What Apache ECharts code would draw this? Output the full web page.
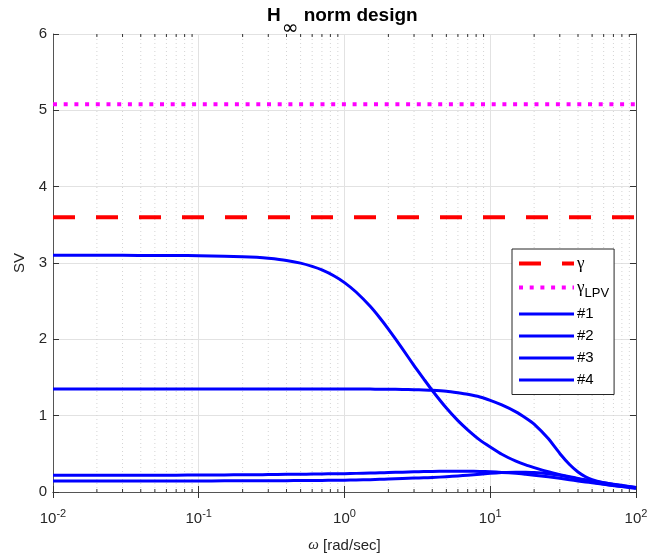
<!DOCTYPE html>
<html>
<head>
<meta charset="utf-8">
<script src="https://cdn.jsdelivr.net/npm/echarts@6/dist/echarts.min.js"></script>
<style>html,body{margin:0;padding:0;background:#fff}#c{width:647px;height:559px}</style>
</head>
<body>
<div id="c"></div>
<script>
// frequency points (rad/sec)
var omega = [0.01, 0.02, 0.03, 0.05, 0.07, 0.1, 0.15, 0.2, 0.25, 0.3, 0.4, 0.5, 0.6, 0.7, 0.85, 1, 1.2, 1.5, 1.75, 2, 2.5, 3, 3.5, 4, 5, 6, 7, 8.5, 10, 12, 15, 17.5, 20, 25, 30, 35, 40, 45, 50, 60, 70, 85, 100];
// singular values
var sv1 = [3.100, 3.100, 3.100, 3.099, 3.098, 3.096, 3.090, 3.083, 3.074, 3.062, 3.034, 2.998, 2.955, 2.909, 2.830, 2.743, 2.620, 2.433, 2.280, 2.135, 1.876, 1.655, 1.480, 1.330, 1.100, 0.935, 0.815, 0.680, 0.590, 0.495, 0.405, 0.355, 0.320, 0.265, 0.228, 0.200, 0.178, 0.160, 0.145, 0.120, 0.102, 0.080, 0.058];
var sv2 = [1.350, 1.350, 1.350, 1.350, 1.350, 1.350, 1.350, 1.350, 1.350, 1.350, 1.350, 1.350, 1.350, 1.350, 1.350, 1.350, 1.349, 1.348, 1.347, 1.346, 1.343, 1.340, 1.337, 1.333, 1.320, 1.300, 1.280, 1.245, 1.200, 1.140, 1.050, 0.970, 0.890, 0.700, 0.505, 0.360, 0.262, 0.200, 0.162, 0.122, 0.098, 0.075, 0.058];
var sv3 = [0.220, 0.220, 0.220, 0.221, 0.221, 0.222, 0.224, 0.225, 0.226, 0.228, 0.231, 0.233, 0.235, 0.237, 0.239, 0.240, 0.244, 0.248, 0.252, 0.255, 0.260, 0.265, 0.268, 0.270, 0.272, 0.272, 0.272, 0.269, 0.265, 0.257, 0.245, 0.232, 0.220, 0.200, 0.180, 0.160, 0.145, 0.132, 0.120, 0.100, 0.085, 0.068, 0.055];
var sv4 = [0.145, 0.145, 0.145, 0.145, 0.145, 0.145, 0.146, 0.146, 0.147, 0.147, 0.149, 0.150, 0.151, 0.152, 0.154, 0.155, 0.158, 0.162, 0.166, 0.170, 0.176, 0.182, 0.186, 0.190, 0.200, 0.210, 0.220, 0.233, 0.245, 0.254, 0.260, 0.258, 0.255, 0.240, 0.220, 0.195, 0.170, 0.150, 0.130, 0.105, 0.085, 0.064, 0.045];
var gammaVal = 3.6;
var gammaLPV = 5.08;
var xRange = [0.01, 100];
var yTicks = [0, 1, 2, 3, 4, 5, 6];
var minorX = [];
[0.01, 0.1, 1, 10].forEach(function (d) { for (var k = 2; k <= 9; k++) minorX.push(+(d * k).toPrecision(3)); });

function pairs(ys) { return omega.map(function (w, i) { return [w, ys[i]]; }); }

var font = "'Liberation Sans', Arial, Helvetica, sans-serif";
var txt = '#262626';
var chart = echarts.init(document.getElementById('c'), null, {renderer: 'canvas'});

var lblFmt = function (v) {
  var e = Math.round(Math.log(v) / Math.LN10);
  return '{b|10}{sup|' + e + '}';
};

function blue(name, ys) {
  return {
    name: name, type: 'line', symbol: 'none', smooth: 0.15, z: 4,
    data: pairs(ys), lineStyle: {color: '#0000ff', width: 3, join: 'round'}, itemStyle: {color: '#0000ff'}
  };
}

chart.setOption({
  animation: false,
  backgroundColor: '#fff',
  title: {
    text: '{h|H}{sub|∞}{h| norm design}',
    left: 267,
    top: -7,
    padding: 0,
    textStyle: {
      rich: {
        h: {fontSize: 19, fontWeight: 'bold', fontFamily: font, color: '#000'},
        sub: {fontSize: 20, fontWeight: 'normal', fontFamily: "'DejaVu Sans', sans-serif", color: '#000', padding: [26, 0, 0, 1]}
      }
    }
  },
  grid: {left: 53, right: 11, top: 34, bottom: 67, containLabel: false, outerBoundsMode: 'none'},
  legend: {
    orient: 'vertical',
    left: 512,
    top: 249,
    padding: [6, 5, 7, 5],
    itemGap: 7,
    itemWidth: 55,
    itemHeight: 14,
    backgroundColor: '#fff',
    borderColor: '#262626',
    borderWidth: 1,
    borderRadius: 0,
    itemStyle: {opacity: 0},
    lineStyle: {width: 'inherit'},
    data: ['g', 'glpv', '#1', '#2', '#3', '#4'],
    formatter: function (n) {
      if (n === 'g') return '{g|γ}';
      if (n === 'glpv') return '{g|γ}{s|LPV}';
      return '{t|' + n + '}';
    },
    textStyle: {
      color: '#000',
      fontSize: 15,
      fontFamily: font,
      padding: [0, 0, 0, -2],
      rich: {
        g: {fontSize: 17, fontFamily: "'Liberation Serif', 'DejaVu Serif', serif", color: '#000'},
        s: {fontSize: 13, fontFamily: font, color: '#000', padding: [11, 0, 0, 0]},
        t: {fontSize: 15, fontFamily: font, color: '#000'}
      }
    }
  },
  xAxis: [{
    type: 'log',
    logBase: 10,
    min: xRange[0],
    max: xRange[1],
    position: 'bottom',
    name: '{i|ω} [rad/sec]',
    nameLocation: 'middle',
    nameGap: 46,
    nameTextStyle: {
      color: txt, fontSize: 15, fontFamily: font,
      rich: {i: {fontStyle: 'italic', fontSize: 15, fontFamily: "'Liberation Serif', serif", color: txt}}
    },
    axisLine: {show: true, lineStyle: {color: '#555', width: 1}},
    axisTick: {show: true, inside: true, length: 6, lineStyle: {color: '#333'}},
    axisLabel: {
      show: true, margin: 16, formatter: lblFmt,
      rich: {
        b: {fontSize: 15, fontFamily: font, color: txt},
        sup: {fontSize: 11, fontFamily: font, color: txt, padding: [0, 0, 11, 0]}
      }
    },
    splitLine: {show: true, lineStyle: {color: '#e2e2e2', width: 1}},
    minorTick: {show: false},
    minorSplitLine: {show: false}
  }, {
    type: 'log',
    logBase: 10,
    min: xRange[0],
    max: xRange[1],
    position: 'top',
    axisLine: {show: true, lineStyle: {color: '#555', width: 1}},
    axisTick: {show: true, inside: true, length: 6, lineStyle: {color: '#333'}},
    axisLabel: {show: false},
    splitLine: {show: false}
  }],
  yAxis: [{
    type: 'value',
    min: 0,
    max: 6,
    interval: 1,
    position: 'left',
    name: 'SV',
    nameLocation: 'middle',
    nameGap: 22,
    nameTextStyle: {color: txt, fontSize: 15, fontFamily: font},
    axisLine: {show: true, lineStyle: {color: '#555', width: 1}},
    axisTick: {show: true, inside: true, length: 6, lineStyle: {color: '#333'}},
    axisLabel: {
      show: true, margin: 6, fontSize: 15, fontFamily: font, color: txt,
      formatter: function (v) { return yTicks.indexOf(v) >= 0 ? String(v) : ''; }
    },
    splitLine: {show: true, lineStyle: {color: '#e2e2e2', width: 1}}
  }, {
    type: 'value',
    min: 0,
    max: 6,
    interval: 1,
    position: 'right',
    axisLine: {show: true, lineStyle: {color: '#555', width: 1}},
    axisTick: {show: true, inside: true, length: 6, lineStyle: {color: '#333'}},
    axisLabel: {show: false},
    splitLine: {show: false}
  }],
  series: [{
    type: 'custom',
    name: 'minorgrid',
    silent: true,
    z: 1,
    xAxisIndex: 0,
    yAxisIndex: 0,
    encode: {x: 0, y: 1},
    data: minorX.map(function (v) { return [v, 0]; }),
    renderItem: function (params, api) {
      var v = api.value(0);
      var p0 = api.coord([v, 0]);
      var p1 = api.coord([v, 6]);
      return {
        type: 'group',
        children: [{
          type: 'line',
          shape: {x1: p0[0], y1: p0[1], x2: p1[0], y2: p1[1]},
          style: {stroke: '#d4d4d4', lineWidth: 1, lineDash: [1, 3]}
        }, {
          type: 'line',
          shape: {x1: p0[0], y1: p0[1], x2: p0[0], y2: p0[1] - 3},
          style: {stroke: '#333', lineWidth: 1}
        }, {
          type: 'line',
          shape: {x1: p1[0], y1: p1[1], x2: p1[0], y2: p1[1] + 3},
          style: {stroke: '#333', lineWidth: 1}
        }]
      };
    }
  }, {
    name: 'g', type: 'line', symbol: 'none', z: 3,
    data: [[xRange[0], gammaVal], [xRange[1], gammaVal]],
    lineStyle: {color: '#ff0000', width: 4, type: [22, 21], cap: 'butt'},
    itemStyle: {color: '#ff0000'}
  }, {
    name: 'glpv', type: 'line', symbol: 'none', z: 3,
    data: [[xRange[0], gammaLPV], [xRange[1], gammaLPV]],
    lineStyle: {color: '#ff00ff', width: 4, type: [4, 6.7], cap: 'butt'},
    itemStyle: {color: '#ff00ff'}
  },
  blue('#1', sv1), blue('#2', sv2), blue('#3', sv3), blue('#4', sv4)]
});
</script>
</body>
</html>
